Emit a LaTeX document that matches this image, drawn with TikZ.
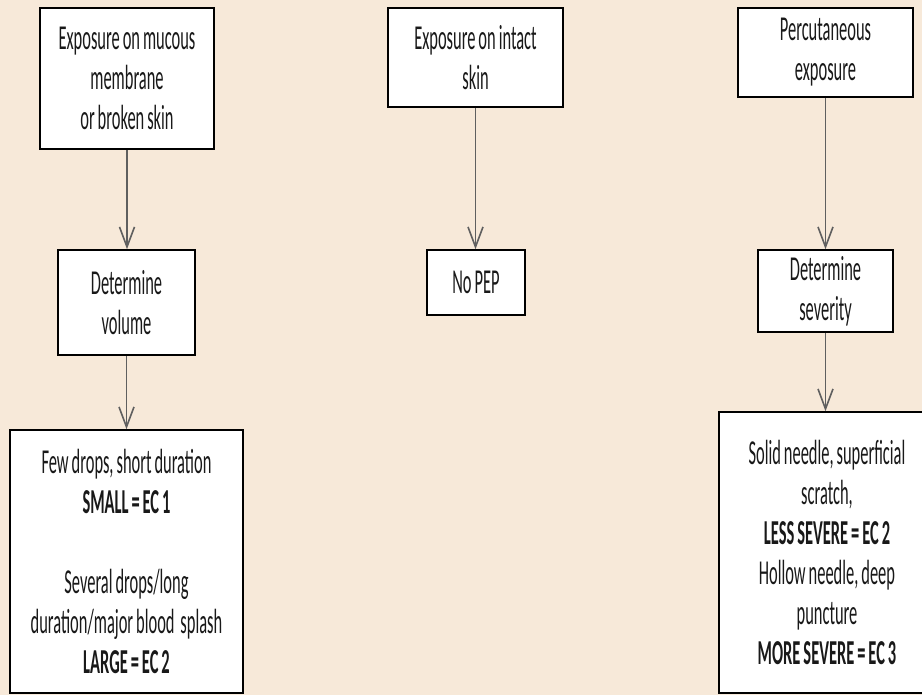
\documentclass[tikz,border=0pt]{standalone}
\usepackage{fontspec}
\setmainfont{Carlito}[FakeStretch=0.47, WordSpace=0.8]
\usepackage{tikz}
\usetikzlibrary{arrows.meta}
\definecolor{bgbeige}{RGB}{247,233,217}
\definecolor{arrowgray}{RGB}{95,95,95}
\definecolor{textgray}{RGB}{25,25,25}

\tikzset{
  stepbox/.style={draw=black, line width=1.6pt, fill=white, align=center,
    inner sep=0pt, text=textgray, font=\fontsize{35}{40}\selectfont},
  flow/.style={draw=arrowgray, line width=1.6pt,
    -{Straight Barb[length=20pt,width=15pt,line width=1.6pt]}},
}

\begin{document}
\begin{tikzpicture}[x=1pt,y=-1pt]
          \useasboundingbox (0,0) rectangle (922,695);
          \clip (0,0) rectangle (922,695);
          \fill[bgbeige] (0,0) rectangle (922,695);
          % mucous membrane branch
          \node[stepbox, minimum width=174pt, minimum height=141pt] (mucous) at (127,78.5)
            {Exposure on mucous\\ membrane\\ or broken skin};
          \node[stepbox, minimum width=137pt, minimum height=105pt] (volume) at (126.5,302.5)
            {Determine\\ volume};
          \node[stepbox, minimum width=233pt, minimum height=263pt] (volres) at (126.5,561.5)
            {Few drops, short duration\\ \textbf{SMALL = EC 1}\\[40pt]
             Several drops/long\\ duration/major blood\ \ splash\\ \textbf{LARGE = EC 2}};
          % intact skin branch
          \node[stepbox, minimum width=175pt, minimum height=99pt] (intact) at (475.5,57.5)
            {Exposure on intact\\ skin};
          \node[stepbox, minimum width=98pt, minimum height=65pt] (nopep) at (476,282.5)
            {No PEP};
          % percutaneous branch
          \node[stepbox, minimum width=175pt, minimum height=89pt] (percut) at (825.5,52.5)
            {Percutaneous\\ exposure};
          \node[stepbox, minimum width=135pt, minimum height=82pt] (severity) at (825.5,291)
            {Determine\\ severity};
          \node[stepbox, minimum width=216pt, minimum height=281pt] (sevres) at (827,552.5)
            {Solid needle, superficial\\ scratch,\\ \textbf{LESS SEVERE = EC 2}\\
             Hollow needle, deep\\ puncture\\ \textbf{MORE SEVERE = EC 3}};
          % connectors
          \draw[flow] (mucous) -- (mucous |- volume.north);
          \draw[flow] (volume) -- (volume |- volres.north);
          \draw[flow] (intact) -- (intact |- nopep.north);
          \draw[flow] (percut) -- (percut |- severity.north);
          \draw[flow] (severity) -- (severity |- sevres.north);
        \end{tikzpicture}
\end{document}
